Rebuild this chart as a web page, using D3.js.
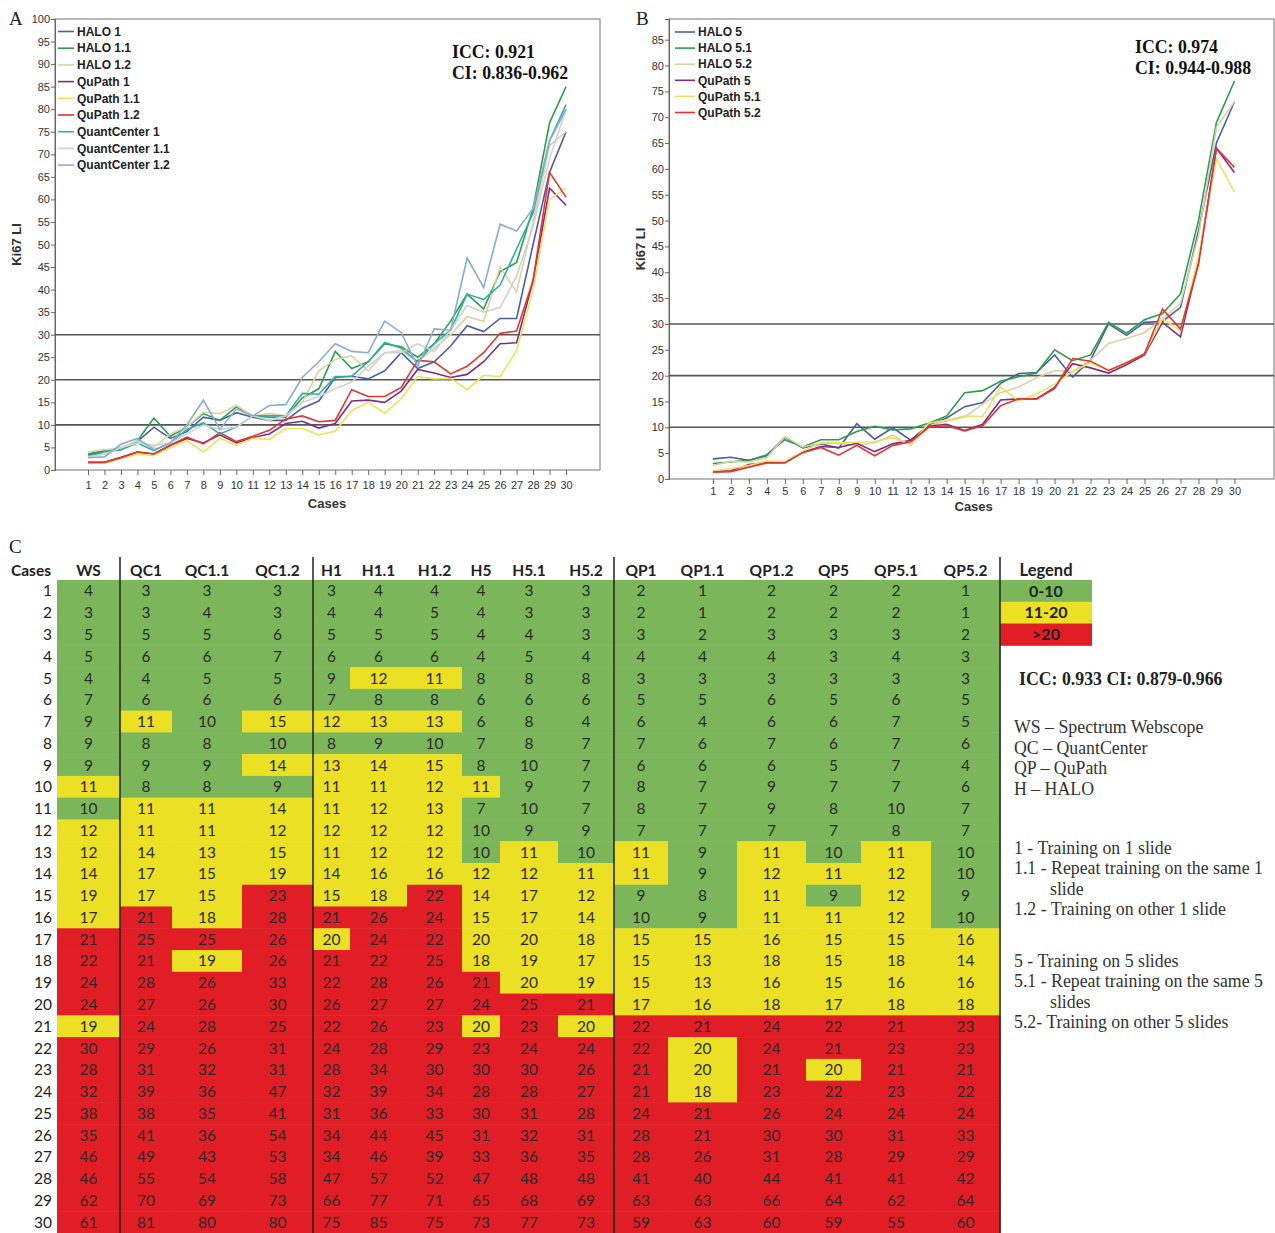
<!DOCTYPE html>
<html>
<head>
<meta charset="utf-8">
<script src="https://cdn.jsdelivr.net/npm/d3@7"></script>
<style>
  body { margin: 0; background: #fff; }
  svg { display: block; }
</style>
</head>
<body>
<svg id="fig"></svg>
<script>
// ---- data ----
const cases = [1,2,3,4,5,6,7,8,9,10,11,12,13,14,15,16,17,18,19,20,21,22,23,24,25,26,27,28,29,30]

// chart A series
const seriesA = ['HALO 1','HALO 1.1','HALO 1.2','QuPath 1','QuPath 1.1','QuPath 1.2','QuantCenter 1','QuantCenter 1.1','QuantCenter 1.2']
const halo1   = [3.3,4.3,4.8,6.3,9.5,7,8.5,11.7,11,12.7,11.7,11,11,13.7,15.3,20.5,20.8,20.2,22,26,22.5,24,27.5,32,30.7,33.6,33.6,50,66,75]
const halo11  = [3.5,4.5,4.5,6.5,11.5,7.5,9.5,12.5,11,14,12,11.7,11.7,16,18,26.3,22.5,24,28,27.3,25,28,33,39,35.7,44,46,58,77,85]
const halo12  = [4,4.5,4.8,6.5,5,8,9.5,12.8,12.5,14.3,12,12.5,12,15,22,24.5,25.3,22,26,26.5,24,27,30,34,33,45,39.5,55,72,75]
const qupath1 = [1.7,1.7,2.8,4,3.5,5.5,7,6,7.8,6,7.2,8,10.3,10.8,9.3,10.3,15.3,15.5,15,17.5,22.3,21.5,20.5,21.2,24,28,28.2,42,62.5,58.7]
const qupath11= [1.5,1.5,2.5,3.5,3.2,5,6.5,4,7,5.5,7,6.8,9.2,9.2,7.8,8.6,13.2,15,12.6,15.8,20.7,20.2,20.3,17.8,21,20.7,26.5,40,60,62.5]
const qupath12= [1.7,1.7,2.7,4,3.6,5.5,7.3,5.8,8.3,6.3,7.5,8.8,11.3,12,10.7,11,17.8,16.3,16.3,18.3,24.3,24,21.3,23,26,30.3,30.8,42,66,60.5]
const qc1     = [3,4,4.5,6,4.3,6,9,10.5,8,9.5,12,12,12,17,16.8,20.7,20.8,24,28.3,27,24,28,31,39,37.8,41,49,57,73,81]
const qc11    = [3,3.5,5,6,5.5,6,8,10,9,9.5,12,11,12,15,16.3,18,19.5,23,26,26,28,26.3,31,36.5,35,36,43,54,69,80]
const qc12    = [2.7,2.9,5.7,7,4.5,6,10,15.5,9,13.5,12,14.3,14.5,20.5,24,28,26.3,26,33,30.5,23,31.3,31,47,40.5,54.5,53,58,73,80]

// chart B series
const seriesB = ['HALO 5','HALO 5.1','HALO 5.2','QuPath 5','QuPath 5.1','QuPath 5.2']
const halo5   = [3.9,4.2,3.6,4.5,8.1,6,6.8,6,10.7,7.7,9.9,7.5,10.5,11.8,14,14.8,18.5,20.4,20.6,24,19.7,23,30,27.8,30.3,30.5,33.2,48,65,73]
const halo51  = [3,3.3,3.6,4.7,7.6,6.2,7.6,7.6,9.2,10.2,9.5,9.7,10.8,12.2,16.7,17.1,18.9,19.8,20.5,25,22.9,24,30.3,28.2,30.8,32,35.8,50,69,77]
const halo52  = [2.6,3.4,3.3,4.1,8.2,6.2,6.9,6.9,6.5,7,8.5,6.5,10.2,11.2,12,14.5,16.7,17.8,19.6,21,20.8,23,26.2,27.2,28.3,31,34,47,68,73]
const qupath5 = [1.5,1.6,2.8,3.2,3.2,5.2,6.3,6.1,6.9,5.3,6.8,7.5,10.2,10.6,9.4,10.6,15.3,15.5,15.5,17.7,22.3,21.5,20.5,22.1,24,30.3,27.5,42,64,59.3]
const qupath51= [1.6,2,2.6,3.5,3.4,5.4,7,7,7.1,7.2,8,6.7,10.8,11.4,12.2,12.1,17.8,15.1,16.5,18.3,20.8,22.5,21,22.5,24.3,31,28.7,43,62,55.5]
const qupath52= [1.3,1.4,2.3,3.1,3.1,5.1,6.1,4.6,6.5,4.5,6.5,7.2,10,10.3,9.3,10.3,14.2,15.5,15.5,17.5,23.3,22.8,21,22.5,24.2,32.9,29,41.5,64,60.3]

const cutLines = [10, 20, 30]

// table C columns
const tableCols = ['WS','QC1','QC1.1','QC1.2','H1','H1.1','H1.2','H5','H5.1','H5.2','QP1','QP1.1','QP1.2','QP5','QP5.1','QP5.2']
const ws    = [4,3,5,5,4,7,9,9,9,11,10,12,12,14,19,17,21,22,24,24,19,30,28,32,38,35,46,46,62,61]
const tQC1  = [3,3,5,6,4,6,11,8,9,8,11,11,14,17,17,21,25,21,28,27,24,29,31,39,38,41,49,55,70,81]
const tQC11 = [3,4,5,6,5,6,10,8,9,8,11,11,13,15,15,18,25,19,26,26,28,26,32,36,35,36,43,54,69,80]
const tQC12 = [3,3,6,7,5,6,15,10,14,9,14,12,15,19,23,28,26,26,33,30,25,31,31,47,41,54,53,58,73,80]
const tH1   = [3,4,5,6,9,7,12,8,13,11,11,12,11,14,15,21,20,21,22,26,22,24,28,32,31,34,34,47,66,75]
const tH11  = [4,4,5,6,12,8,13,9,14,11,12,12,12,16,18,26,24,22,28,27,26,28,34,39,36,44,46,57,77,85]
const tH12  = [4,5,5,6,11,8,13,10,15,12,13,12,12,16,22,24,22,25,26,27,23,29,30,34,33,45,39,52,71,75]
const tH5   = [4,4,4,4,8,6,6,7,8,11,7,10,10,12,14,15,20,18,21,24,20,23,30,28,30,31,33,47,65,73]
const tH51  = [3,3,4,5,8,6,8,8,10,9,10,9,11,12,17,17,20,19,20,25,23,24,30,28,31,32,36,48,68,77]
const tH52  = [3,3,3,4,8,6,4,7,7,7,7,9,10,11,12,14,18,17,19,21,20,24,26,27,28,31,35,48,69,73]
const tQP1  = [2,2,3,4,3,5,6,7,6,8,8,7,11,11,9,10,15,15,15,17,22,22,21,21,24,28,28,41,63,59]
const tQP11 = [1,1,2,4,3,5,4,6,6,7,7,7,9,9,8,9,15,13,13,16,21,20,20,18,21,21,26,40,63,63]
const tQP12 = [2,2,3,4,3,6,6,7,6,9,9,7,11,12,11,11,16,18,16,18,24,24,21,23,26,30,31,44,66,60]
const tQP5  = [2,2,3,3,3,5,6,6,5,7,8,7,10,11,9,11,15,15,15,17,22,21,20,22,24,30,28,41,64,59]
const tQP51 = [2,2,3,4,3,6,7,7,7,7,10,8,11,12,12,12,15,18,16,18,21,23,21,23,24,31,29,41,62,55]
const tQP52 = [1,1,2,3,3,5,5,6,4,6,7,7,10,10,9,10,16,14,16,18,23,23,21,22,24,33,29,42,64,60]

const legendBins = ['0-10','11-20','>20']

const notes1 = ['WS – Spectrum Webscope','QC – QuantCenter','QP – QuPath','H – HALO']

// ---- drawing ----
const W = 1275, H = 1233
const svg = d3.select('#fig').attr('width', W).attr('height', H)
svg.append('rect').attr('width', W).attr('height', H).attr('fill', '#fff')

const lineColors = ['#4b5da9','#2b9e4b','#d8d2a4','#7d2e82','#ece35c','#e3342f','#2cb2a2','#d0d0d0','#88acd6']
const sansFont = 'Liberation Sans, Arial, sans-serif'
const serifFont = 'Liberation Serif, Times New Roman, serif'
const serifSize = 17.8

function lineChart(opts) {
  const {box, xDom, yMax, yTicks, names, values, colors, legendY, legendStep, legX, legLen,
         icc, ci, iccX, iccY, letter, letterX, xLabelY, casesY, ki67X} = opts
  const g = svg.append('g')
  const x = d3.scaleLinear().domain(xDom).range([box.left, box.right])
  const y = d3.scaleLinear().domain([0, yMax]).range([box.bottom, box.top])

  g.append('rect')
    .attr('x', box.left).attr('y', box.top)
    .attr('width', box.right - box.left).attr('height', box.bottom - box.top)
    .attr('fill', 'none').attr('stroke', '#8a8a8a').attr('stroke-width', 1.2)

  let yAxis = g.append('g').attr('transform', `translate(${box.left},0)`)
    .call(d3.axisLeft(y).tickValues(yTicks).tickSize(4).tickPadding(1))
  yAxis.select('.domain').attr('stroke', '#666')
  yAxis.selectAll('line').attr('stroke', '#666')
  yAxis.selectAll('text').attr('font-family', sansFont).attr('font-size', 11).attr('fill', '#333')

  let xAxis = g.append('g').attr('transform', `translate(0,${box.bottom})`)
    .call(d3.axisBottom(x).tickValues(cases).tickSize(5).tickPadding(xLabelY))
  xAxis.select('.domain').remove()
  xAxis.selectAll('line').attr('stroke', '#666')
  xAxis.selectAll('text').attr('font-family', sansFont).attr('font-size', 11).attr('fill', '#333')

  g.selectAll('.cut').data(cutLines).join('line')
    .attr('x1', box.left).attr('x2', box.right)
    .attr('y1', d => y(d)).attr('y2', d => y(d))
    .attr('stroke', '#555').attr('stroke-width', 1.6)

  const line = d3.line().x((d, i) => x(cases[i])).y(d => y(d))
  g.selectAll('.series').data(values).join('path')
    .attr('d', line)
    .attr('fill', 'none')
    .attr('stroke', (d, i) => colors[i])
    .attr('stroke-width', 1.6)

  const leg = g.selectAll('.leg').data(names).join('g')
    .attr('transform', (d, i) => `translate(${box.left + legX},${legendY + i * legendStep})`)
  leg.append('line').attr('x1', 0).attr('x2', legLen).attr('stroke', (d, i) => colors[i]).attr('stroke-width', 1.6)
  leg.append('text').attr('x', legLen + 3).attr('dy', '0.35em').text(d => d)
    .attr('font-family', sansFont).attr('font-size', 12).attr('font-weight', 'bold').attr('fill', '#222')

  g.append('text').attr('x', iccX).attr('y', iccY).text(icc)
    .attr('font-family', serifFont).attr('font-size', serifSize).attr('font-weight', 'bold').attr('fill', '#111')
  g.append('text').attr('x', iccX).attr('y', iccY + 21).text(ci)
    .attr('font-family', serifFont).attr('font-size', serifSize).attr('font-weight', 'bold').attr('fill', '#111')

  g.append('text').attr('x', letterX).attr('y', 25).text(letter)
    .attr('font-family', serifFont).attr('font-size', 19).attr('fill', '#222')

  g.append('text').attr('x', (x(1) + x(30)) / 2).attr('y', casesY).text('Cases')
    .attr('text-anchor', 'middle')
    .attr('font-family', sansFont).attr('font-size', 13).attr('font-weight', 'bold').attr('fill', '#333')

  g.append('text')
    .attr('transform', `translate(${ki67X},${(box.top + box.bottom) / 2}) rotate(-90)`)
    .text('Ki67 LI').attr('text-anchor', 'middle')
    .attr('font-family', sansFont).attr('font-size', 13).attr('font-weight', 'bold').attr('fill', '#333')
}

lineChart({
  box: {left: 55, right: 600, top: 19, bottom: 470},
  xDom: [-1, 32.06], yMax: 100, yTicks: d3.range(0, 101, 5),
  names: seriesA,
  values: [halo1, halo11, halo12, qupath1, qupath11, qupath12, qc1, qc11, qc12],
  colors: lineColors,
  legendY: 31.5, legendStep: 16.7, legX: 3, legLen: 16,
  icc: 'ICC: 0.921', ci: 'CI: 0.836-0.962', iccX: 452, iccY: 58,
  letter: 'A', letterX: 9, xLabelY: 6, casesY: 508, ki67X: 21
})

lineChart({
  box: {left: 669, right: 1274, top: 19, bottom: 479},
  xDom: [-1.44, 32.2], yMax: 89, yTicks: d3.range(0, 86, 5),
  names: seriesB,
  values: [halo5, halo51, halo52, qupath5, qupath51, qupath52],
  colors: lineColors.slice(0, 6),
  legendY: 32, legendStep: 16.1, legX: 6, legLen: 20,
  icc: 'ICC: 0.974', ci: 'CI: 0.944-0.988', iccX: 1135, iccY: 53,
  letter: 'B', letterX: 636, xLabelY: 3, casesY: 511, ki67X: 645
})

// ---- table C ----
const colValues = [ws, tQC1, tQC11, tQC12, tH1, tH11, tH12, tH5, tH51, tH52, tQP1, tQP11, tQP12, tQP5, tQP51, tQP52]
const colEdges = [57,120,172,242,313,350,407,462,500,558,614,668,737,806,861,931,1000]
const colX = d3.scaleOrdinal().domain(tableCols).range(colEdges.slice(0, -1))
const colW = d3.scaleOrdinal().domain(tableCols).range(colEdges.slice(1).map((e, i) => e - colEdges[i]))
const rowY = d3.scaleBand().domain(cases).range([580, 1233]).paddingInner(0)
const binColor = d3.scaleThreshold().domain([10.5, 20.5]).range(['#7bb75a','#ebe024','#e11d25'])
const tableFont = 'Lato, Open Sans, sans-serif'
const tableSize = 15.5

const tbl = svg.append('g')
tbl.append('text').attr('x', 9).attr('y', 553).text('C')
  .attr('font-family', serifFont).attr('font-size', 19).attr('fill', '#222')

const cells = tableCols.flatMap((c, ci) => colValues[ci].map((v, ri) => ({col: c, row: cases[ri], v})))

tbl.selectAll('.cell').data(cells).join('rect')
  .attr('x', d => colX(d.col)).attr('y', d => rowY(d.row))
  .attr('width', d => colW(d.col) + 0.5).attr('height', rowY.bandwidth() + 0.5)
  .attr('fill', d => binColor(d.v))

tbl.selectAll('.num').data(cells).join('text')
  .attr('x', d => colX(d.col) + colW(d.col) / 2)
  .attr('y', d => rowY(d.row) + rowY.bandwidth() / 2)
  .attr('dy', '0.36em').attr('text-anchor', 'middle')
  .text(d => d.v)
  .attr('font-family', tableFont).attr('font-size', tableSize).attr('fill', '#2b2b2b')

tbl.selectAll('.rowlab').data(cases).join('text')
  .attr('x', 52).attr('y', d => rowY(d) + rowY.bandwidth() / 2)
  .attr('dy', '0.36em').attr('text-anchor', 'end').text(d => d)
  .attr('font-family', tableFont).attr('font-size', tableSize).attr('fill', '#222')

const headY = 570
tbl.append('text').attr('x', 31).attr('y', headY).attr('dy', '0.36em').attr('text-anchor', 'middle').text('Cases')
  .attr('font-family', tableFont).attr('font-size', tableSize).attr('font-weight', 'bold').attr('fill', '#222')
tbl.selectAll('.head').data(tableCols).join('text')
  .attr('x', d => colX(d) + colW(d) / 2).attr('y', headY)
  .attr('dy', '0.36em').attr('text-anchor', 'middle').text(d => d)
  .attr('font-family', tableFont).attr('font-size', tableSize).attr('font-weight', 'bold').attr('fill', '#222')
tbl.append('text').attr('x', 1046).attr('y', headY).attr('dy', '0.36em').attr('text-anchor', 'middle').text('Legend')
  .attr('font-family', tableFont).attr('font-size', 16.5).attr('font-weight', 'bold').attr('fill', '#222')

// legend bins
const binSample = [5, 15, 25]
tbl.selectAll('.bin').data(legendBins).join('rect')
  .attr('x', 1000).attr('y', (d, i) => rowY(cases[i]))
  .attr('width', 92).attr('height', rowY.bandwidth() + 0.5)
  .attr('fill', (d, i) => binColor(binSample[i]))
tbl.selectAll('.binlab').data(legendBins).join('text')
  .attr('x', 1046).attr('y', (d, i) => rowY(cases[i]) + rowY.bandwidth() / 2)
  .attr('dy', '0.36em').attr('text-anchor', 'middle').text(d => d)
  .attr('font-family', tableFont).attr('font-size', 16).attr('font-weight', 'bold').attr('fill', '#222')

// group separators
tbl.selectAll('.sep').data([120, 313, 614, 1000]).join('line')
  .attr('x1', d => d).attr('x2', d => d).attr('y1', 557).attr('y2', H)
  .attr('stroke', '#222').attr('stroke-width', 1.5)

// notes at right
tbl.append('text').attr('x', 1019).attr('y', 685).text('ICC: 0.933 CI: 0.879-0.966')
  .attr('font-family', serifFont).attr('font-size', serifSize).attr('font-weight', 'bold').attr('fill', '#222')

tbl.selectAll('.note1').data(notes1).join('text')
  .attr('x', 1014).attr('y', (d, i) => 733 + i * 20.7).text(d => d)
  .attr('font-family', serifFont).attr('font-size', serifSize).attr('fill', '#333')

const notes2 = [
  {t: '1 - Training on 1 slide', x: 1014, y: 854},
  {t: '1.1 - Repeat training on the same 1', x: 1014, y: 874},
  {t: 'slide', x: 1050, y: 895},
  {t: '1.2 - Training on other 1 slide', x: 1014, y: 915},
  {t: '5 - Training on 5 slides', x: 1014, y: 967},
  {t: '5.1 - Repeat training on the same 5', x: 1014, y: 987},
  {t: 'slides', x: 1050, y: 1008},
  {t: '5.2- Training on other 5 slides', x: 1014, y: 1028}
]
tbl.selectAll('.note2').data(notes2).join('text')
  .attr('x', d => d.x).attr('y', d => d.y).text(d => d.t)
  .attr('font-family', serifFont).attr('font-size', serifSize).attr('fill', '#333')
</script>
</body>
</html>
